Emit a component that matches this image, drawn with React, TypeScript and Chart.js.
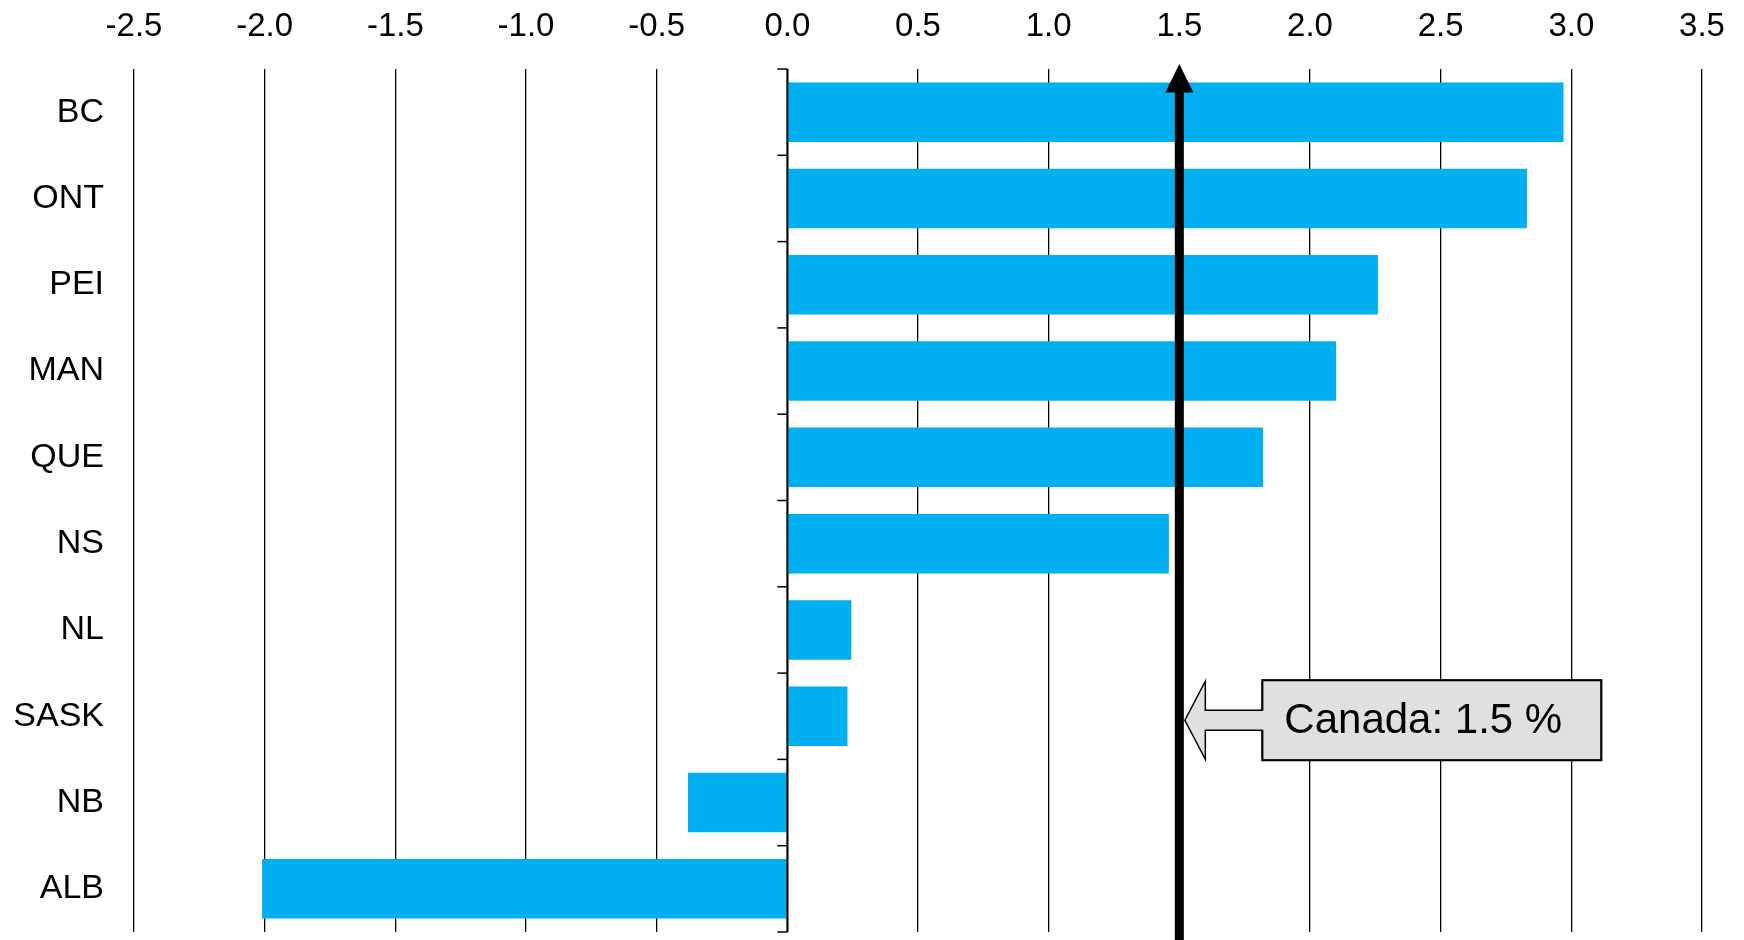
import React, { useEffect, useRef } from "react";
import { Chart, registerables } from "chart.js";

Chart.register(...registerables);

const categories = ["BC", "ONT", "PEI", "MAN", "QUE", "NS", "NL", "SASK", "NB", "ALB"];
const growth = [2.97, 2.83, 2.26, 2.1, 1.82, 1.46, 0.245, 0.23, -0.38, -2.01];
const canadaValue = 1.5;
const canadaLabel = "Canada: " + canadaValue.toFixed(1) + " %";
const calloutCategory = "SASK";
const xMin = -2.5;
const xMax = 3.5;
const xStep = 0.5;

const FONT = "'Liberation Sans', Arial, Helvetica, sans-serif";
const BAR_COLOR = "#00B0F0";

const overlayPlugin = {
  id: "overlay",
  afterDatasetsDraw(chart: any) {
    const { ctx, chartArea, scales } = chart;
    const xs = scales.x;
    const ys = scales.y;
    const x0 = xs.getPixelForValue(0);
    ctx.save();
    // zero axis with tick marks at category boundaries
    ctx.strokeStyle = "#000";
    ctx.lineWidth = 2;
    ctx.beginPath();
    ctx.moveTo(x0, chartArea.top);
    ctx.lineTo(x0, chartArea.bottom);
    ctx.stroke();
    ctx.lineWidth = 1.5;
    const n = categories.length;
    for (let k = 0; k <= n; k++) {
      let y: number;
      if (k === 0) y = chartArea.top;
      else if (k === n) y = chartArea.bottom;
      else y = (ys.getPixelForValue(k - 1) + ys.getPixelForValue(k)) / 2;
      ctx.beginPath();
      ctx.moveTo(x0 - 10, y);
      ctx.lineTo(x0, y);
      ctx.stroke();
    }

    // Canada vertical arrow
    const cx = xs.getPixelForValue(canadaValue);
    const tipY = chartArea.top - 5;
    const baseY = chartArea.top + 23.5;
    ctx.fillStyle = "#000";
    ctx.fillRect(cx - 4.5, baseY - 1, 9, chart.height - baseY + 1);
    ctx.beginPath();
    ctx.moveTo(cx, tipY);
    ctx.lineTo(cx + 14, baseY);
    ctx.lineTo(cx - 14, baseY);
    ctx.closePath();
    ctx.fill();

    // Callout
    const cy = ys.getPixelForValue(categories.indexOf(calloutCategory)) + 4;
    const tipX = cx + 5.5;
    const headX = tipX + 20.5;
    const boxL = tipX + 77.5;
    const boxR = boxL + 339;
    const halfH = 40;
    const shaftH = 10;
    ctx.beginPath();
    ctx.moveTo(tipX, cy);
    ctx.lineTo(headX, cy - halfH + 1);
    ctx.lineTo(headX, cy - shaftH);
    ctx.lineTo(boxL, cy - shaftH);
    ctx.lineTo(boxL, cy - halfH);
    ctx.lineTo(boxR, cy - halfH);
    ctx.lineTo(boxR, cy + halfH);
    ctx.lineTo(boxL, cy + halfH);
    ctx.lineTo(boxL, cy + shaftH);
    ctx.lineTo(headX, cy + shaftH);
    ctx.lineTo(headX, cy + halfH - 1);
    ctx.closePath();
    ctx.fillStyle = "#E0E0E0";
    ctx.fill();
    ctx.lineWidth = 1.5;
    ctx.strokeStyle = "#000";
    ctx.stroke();
    // thicker box edges
    ctx.lineWidth = 2;
    ctx.beginPath();
    ctx.moveTo(boxL, cy - shaftH);
    ctx.lineTo(boxL, cy - halfH);
    ctx.lineTo(boxR, cy - halfH);
    ctx.lineTo(boxR, cy + halfH);
    ctx.lineTo(boxL, cy + halfH);
    ctx.lineTo(boxL, cy + shaftH);
    ctx.stroke();

    ctx.fillStyle = "#000";
    ctx.font = "42px " + FONT;
    ctx.textAlign = "left";
    ctx.textBaseline = "alphabetic";
    ctx.fillText(canadaLabel, boxL + 22, cy + 13);
    ctx.restore();
  },
};

export default function App() {
  const ref = useRef<HTMLCanvasElement | null>(null);
  useEffect(() => {
    if (!ref.current) return;
    const chart = new Chart(ref.current, {
      type: "bar",
      data: {
        labels: categories,
        datasets: [
          {
            data: growth,
            backgroundColor: BAR_COLOR,
            borderWidth: 0,
            barPercentage: 0.69,
            categoryPercentage: 1,
          },
        ],
      },
      options: {
        indexAxis: "y",
        responsive: false,
        animation: false,
        events: [],
        layout: { padding: { top: 0, left: 0, right: 42, bottom: 8 } },
        plugins: {
          legend: { display: false },
          tooltip: { enabled: false },
          title: { display: false },
        },
        scales: {
          x: {
            type: "linear",
            position: "top",
            min: xMin,
            max: xMax,
            border: { display: false },
            grid: {
              color: "#000",
              lineWidth: 1.3,
              drawTicks: false,
            },
            ticks: {
              stepSize: xStep,
              color: "#000",
              padding: 22,
              font: { family: FONT, size: 33 },
              callback: (v: any) => Number(v).toFixed(1),
            },
            afterFit: (scale: any) => {
              scale.height = 69;
              scale.paddingLeft = 0;
              scale.paddingRight = 0;
            },
          },
          y: {
            type: "category",
            position: "left",
            border: { display: false },
            grid: { display: false, drawTicks: false },
            ticks: {
              color: "#000",
              padding: 30,
              font: { family: FONT, size: 34 },
            },
            afterFit: (scale: any) => {
              scale.width = 134;
              scale.paddingTop = 0;
              scale.paddingBottom = 0;
            },
          },
        },
      },
      plugins: [overlayPlugin],
    });
    return () => chart.destroy();
  }, []);
  return (
    <div style={{ position: "absolute", left: 0, top: 0, width: 1744, height: 940, background: "#fff" }}>
      <canvas ref={ref} width={1744} height={940} style={{ display: "block", width: 1744, height: 940 }} />
    </div>
  );
}
